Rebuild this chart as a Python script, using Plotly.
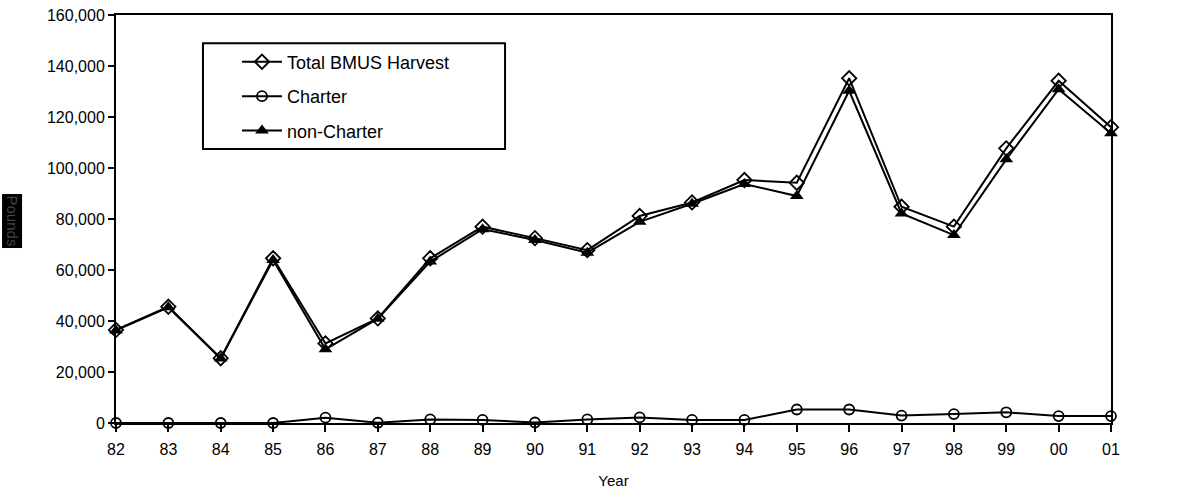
import plotly.graph_objects as go

years = ["82","83","84","85","86","87","88","89","90","91","92","93","94","95","96","97","98","99","00","01"]
total = [36500, 45600, 25400, 64600, 31200, 41000, 64600, 77000, 72500, 67800, 81200, 86500, 95300, 94200, 135200, 84800, 77000, 107700, 134200, 116000]
charter = [0, 0, 0, 0, 2100, 100, 1400, 1200, 200, 1400, 2200, 1200, 1200, 5300, 5300, 2900, 3500, 4200, 2700, 2700]
non_charter = [36300, 45400, 25300, 63900, 28900, 40900, 63300, 76000, 71800, 66800, 78900, 86000, 93700, 89000, 130300, 82200, 73700, 103400, 130900, 113600]

xs = list(range(len(years)))
FONT = "Liberation Sans, Arial, sans-serif"

fig = go.Figure()
fig.add_trace(go.Scatter(x=xs, y=total, name="Total BMUS Harvest", legendgroup="a", mode="lines+markers",
                         line=dict(color="black", width=2),
                         marker=dict(symbol="diamond-open", size=11, color="black", line=dict(width=1.8, color="black")),
                         cliponaxis=False))
fig.add_trace(go.Scatter(x=xs, y=charter, name="Charter", legendgroup="b", mode="lines+markers",
                         line=dict(color="black", width=2),
                         marker=dict(symbol="circle-open", size=10, color="black", line=dict(width=1.8, color="black")),
                         cliponaxis=False))
fig.add_trace(go.Scatter(x=xs, y=non_charter, name="non-Charter", legendgroup="c", mode="lines+markers",
                         line=dict(color="black", width=2),
                         marker=dict(symbol="triangle-up", size=12, color="black"),
                         cliponaxis=False))

fig.update_layout(
    width=1200, height=495,
    margin=dict(l=116, r=89, t=15, b=72, autoexpand=False),
    paper_bgcolor="white", plot_bgcolor="white",
    font=dict(family=FONT, size=16, color="black"),
    showlegend=True,
    legend=dict(x=0.1216, y=0.930, xanchor="left", yanchor="top",
                borderwidth=0, bgcolor="rgba(0,0,0,0)",
                font=dict(family=FONT, size=18, color="black"),
                tracegroupgap=8, itemwidth=40),
    shapes=[dict(type="rect", xref="paper", yref="paper", x0=0.0874, x1=0.391, y0=0.6716, y1=0.931,
                 line=dict(color="black", width=2), fillcolor="rgba(0,0,0,0)", layer="above")],
    xaxis=dict(range=[0, 19], tickvals=xs, ticktext=years, showgrid=False, zeroline=False,
               showline=True, linecolor="black", linewidth=2, mirror=True, automargin=False,
               ticks="outside", ticklen=7, tickcolor="black", tickwidth=1.5,
               ticklabelstandoff=4,
               tickfont=dict(size=16),
               title=dict(text="Year", font=dict(size=15), standoff=18)),
    yaxis=dict(range=[0, 160000], dtick=20000, tickformat=",d", showgrid=False, zeroline=False,
               showline=True, linecolor="black", linewidth=2, mirror=True, automargin=False,
               ticks="outside", ticklen=6, tickcolor="black", tickwidth=1.5,
               tickfont=dict(size=16)),
    annotations=[dict(text="Pounds", xref="paper", yref="paper", x=-0.104, y=0.495,
                      xanchor="center", yanchor="middle", showarrow=False, textangle=90,
                      bgcolor="black", font=dict(family=FONT, size=15, color="#444444"))],
)

fig.write_html("out.html")
